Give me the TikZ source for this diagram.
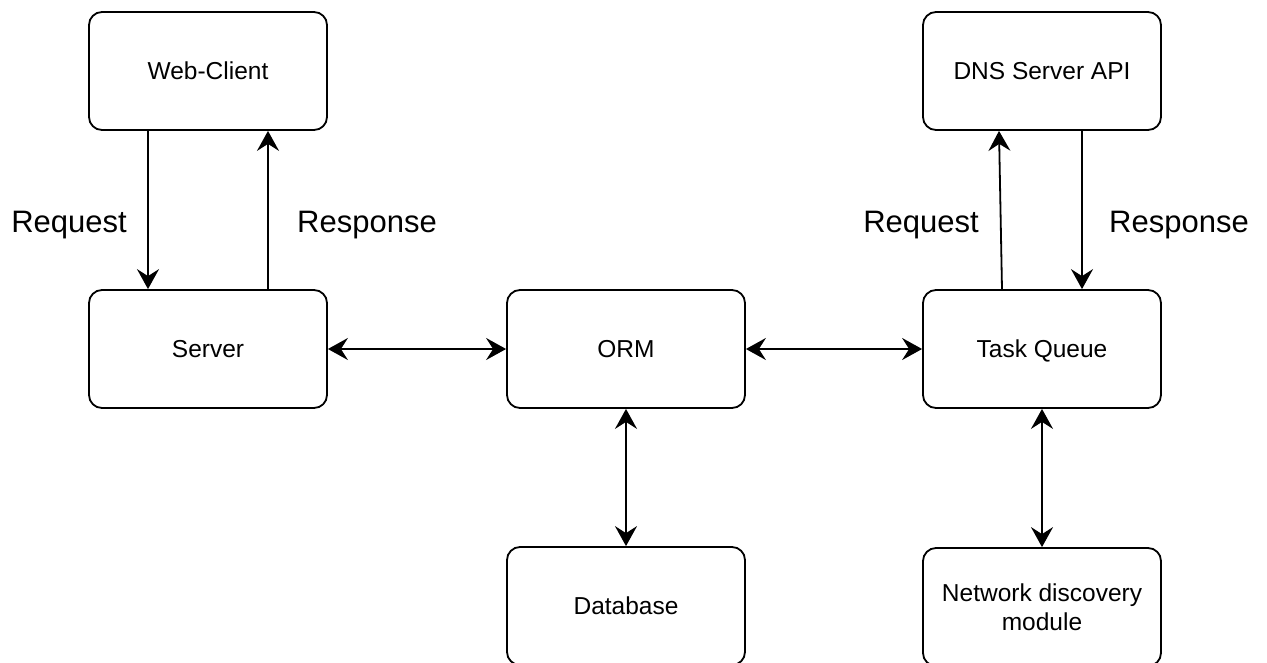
\documentclass[tikz,border=0pt]{standalone}
\usepackage{fontspec}
\setmainfont{Liberation Sans}
\usetikzlibrary{arrows.meta}
\begin{document}
\begin{tikzpicture}[x=1pt, y=-1pt,
  block/.style={draw, line width=1.8pt, rounded corners=13pt,
    minimum width=238pt, minimum height=118pt, align=center,
    inner sep=0pt, font=\fontsize{24.5}{28.5}\selectfont},
  lbl/.style={anchor=base, inner sep=0pt, font=\fontsize{31}{36}\selectfont},
  link/.style={line width=1.8pt, -{Stealth[length=20pt, width=22pt, inset=7pt]}},
  both/.style={line width=1.8pt, {Stealth[length=20pt, width=22pt, inset=7pt]}-{Stealth[length=20pt, width=22pt, inset=7pt]}}
]
\useasboundingbox (0,0) rectangle (1267,662);

% boxes
\node[block] (web)    at (208,71)   {Web-Client};
\node[block] (server) at (208,349)  {Server};
\node[block] (orm)    at (626,349)  {ORM};
\node[block, text depth=0pt] (tq) at (1042,349) {Task Queue};
\node[block] (dns)    at (1042,71)  {DNS Server API};
\node[block] (db)     at (626,606)  {Database};
\node[block] (nd)     at (1042,607) {Network discovery\\module};

% request / response pairs
\draw[link] ([xshift=-60pt]web.south) -- ([xshift=-60pt]server.north);
\draw[link] ([xshift=60pt]server.north) -- ([xshift=60pt]web.south);
\draw[link] ([xshift=-40pt]tq.north) -- ([xshift=-43pt]dns.south);
\draw[link] ([xshift=40pt]dns.south) -- ([xshift=40pt]tq.north);

% two-way links
\draw[both] (server.east) -- (orm.west);
\draw[both] (orm.east) -- (tq.west);
\draw[both] (orm.south) -- (db.north);
\draw[both] (tq.south) -- (nd.north);

% labels
\node[lbl] (l1) at (69,232)   {Request};
\node[lbl] (l2) at (367,232)  {Response};
\node[lbl] (l3) at (921,232)  {Request};
\node[lbl] (l4) at (1179,232) {Response};
\end{tikzpicture}
\end{document}
